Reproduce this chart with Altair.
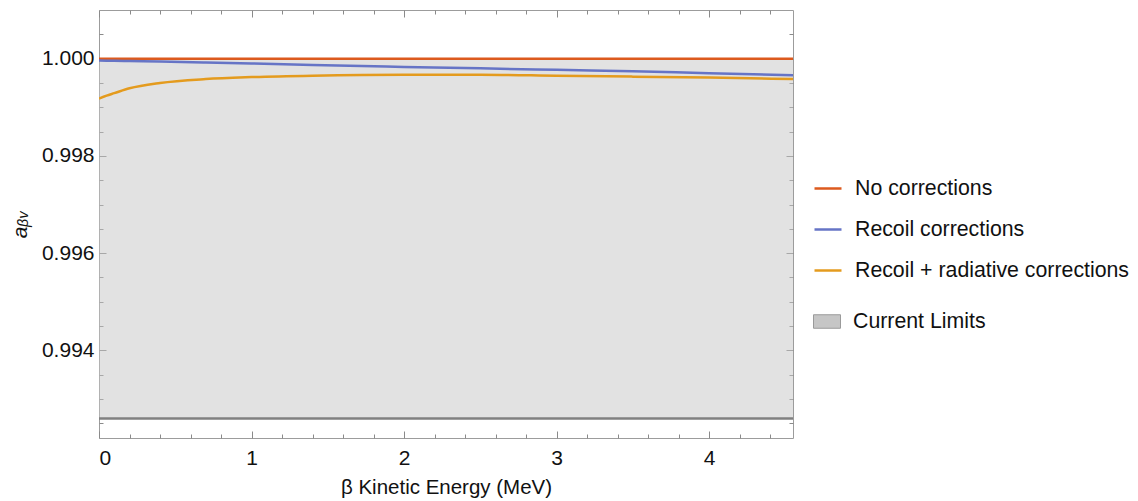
import altair as alt
import pandas as pd

# ---- data ----
energy = [0.0, 0.05, 0.1, 0.2, 0.4, 0.7, 1.0, 1.4, 2.0, 2.5, 3.0, 3.5, 4.0, 4.55]
no_corrections = [1.0, 1.0, 1.0, 1.0, 1.0, 1.0, 1.0, 1.0, 1.0, 1.0, 1.0, 1.0, 1.0, 1.0]
recoil = [0.99996, 0.999957, 0.999955, 0.99995, 0.99994, 0.99992, 0.99990, 0.99987,
          0.99983, 0.99980, 0.99977, 0.99974, 0.99970, 0.99966]
recoil_radiative = [0.99918, 0.99924, 0.99929, 0.99939, 0.99950, 0.99958, 0.99962, 0.99965,
                    0.99967, 0.99967, 0.99965, 0.99963, 0.99961, 0.99958]

series_names = ["No corrections", "Recoil corrections", "Recoil + radiative corrections"]
series_colors = ["#dc5a1e", "#6674c6", "#e49b1e"]

band_energy = [0.0, 4.55]
band_lower = [0.9926, 0.9926]
band_upper = [1.0, 1.0]
band_name = "Current Limits"

x_domain = [0.0, 4.55]
y_domain = [0.9922, 1.001]
x_major = [0, 1, 2, 3, 4]
x_ticks = [0, 0.2, 0.4, 0.6, 0.8, 1, 1.2, 1.4, 1.6, 1.8, 2, 2.2, 2.4, 2.6, 2.8, 3,
           3.2, 3.4, 3.6, 3.8, 4, 4.2, 4.4]
y_major = [0.994, 0.996, 0.998, 1.0]
y_ticks = [0.9925, 0.993, 0.9935, 0.994, 0.9945, 0.995, 0.9955, 0.996, 0.9965, 0.997,
           0.9975, 0.998, 0.9985, 0.999, 0.9995, 1.0, 1.0005]

W, H = 694, 428
FONT = "Liberation Sans"

rows = []
for name, vals in zip(series_names, [no_corrections, recoil, recoil_radiative]):
    for e, v in zip(energy, vals):
        rows.append({"E": e, "a": v, "series": name})
lines_df = pd.DataFrame(rows)
band_df = pd.DataFrame({"E": band_energy, "lo": band_lower, "hi": band_upper,
                        "name": [band_name] * len(band_energy)})

xs = alt.Scale(domain=x_domain, nice=False, zero=False)
ys = alt.Scale(domain=y_domain, nice=False, zero=False)

x_major_test = "abs(datum.value - round(datum.value)) < 1e-6"
y_major_test = "abs(datum.value * 500 - round(datum.value * 500)) < 1e-6"


def tick_axis(orient, values, offset, test):
    return alt.Axis(orient=orient, values=values, offset=offset, labels=False, domain=False,
                    grid=False, title=None, tickColor="#8a8a8a", tickWidth=1,
                    tickSize={"condition": {"test": test, "value": 7}, "value": 4})


band = alt.Chart(band_df).mark_area(fillOpacity=0.5, clip=True).encode(
    x=alt.X("E:Q", scale=xs, axis=alt.Axis(
        orient="bottom", values=x_major, ticks=False, domain=False, grid=False,
        labelFont=FONT, labelFontSize=21, labelColor="#111", labelPadding=9,
        title="β Kinetic Energy (MeV)", titleFont=FONT, titleFontSize=20.5,
        titleFontWeight="normal", titleColor="#111", titlePadding=9)),
    y=alt.Y("lo:Q", scale=ys, axis=alt.Axis(
        orient="left", values=y_major, format=".3f", ticks=False, domain=False, grid=False,
        labelFont=FONT, labelFontSize=21, labelColor="#111", labelPadding=5,
        title="aᵦᵥ", titleFont=FONT, titleFontSize=21, titleFontStyle="italic",
        titleFontWeight="normal", titleColor="#111", titlePadding=11)),
    y2="hi:Q",
    fill=alt.Fill("name:N", scale=alt.Scale(domain=[band_name], range=["#c6c6c6"]),
                  legend=alt.Legend(title=None, orient="none", legendX=714, legendY=297.5,
                                    symbolType="M-1,-0.5H1V0.5H-1Z", symbolSize=729,
                                    symbolStrokeColor="#9a9a9a", symbolStrokeWidth=1,
                                    symbolOpacity=1, labelFont=FONT, labelFontSize=21.3,
                                    labelColor="#111", labelOffset=12, padding=0,
                                    labelLimit=400)),
)

edge = alt.Chart(band_df).mark_line(color="#808080", strokeWidth=2.5, clip=True).encode(
    x=alt.X("E:Q", scale=xs, axis=tick_axis("top", x_ticks, -H, x_major_test)),
    y=alt.Y("lo:Q", scale=ys, axis=tick_axis("right", y_ticks, -W, y_major_test)),
)

lines = alt.Chart(lines_df).mark_line(strokeWidth=2.5, clip=True, interpolate="monotone").encode(
    x=alt.X("E:Q", scale=xs, axis=tick_axis("bottom", x_ticks, -H, x_major_test)),
    y=alt.Y("a:Q", scale=ys, axis=tick_axis("left", y_ticks, -W, y_major_test)),
    stroke=alt.Stroke("series:N", scale=alt.Scale(domain=series_names, range=series_colors),
                      legend=alt.Legend(title=None, orient="none", legendX=714, legendY=163.5,
                                        symbolType="stroke", symbolSize=729,
                                        symbolStrokeWidth=2.5, labelFont=FONT,
                                        labelFontSize=21.3, labelColor="#111", labelOffset=12,
                                        rowPadding=15, padding=0, labelLimit=400)),
)

chart = alt.layer(band, edge, lines).resolve_axis(x="independent", y="independent").properties(
    width=W, height=H,
    autosize=alt.AutoSizeParams(type="none"),
    padding={"left": 91, "top": 2, "right": 337, "bottom": 61},
).configure_view(stroke="#9c9c9c", strokeWidth=1)

chart.save("out.html", embed_options={"renderer": "svg", "actions": False})
